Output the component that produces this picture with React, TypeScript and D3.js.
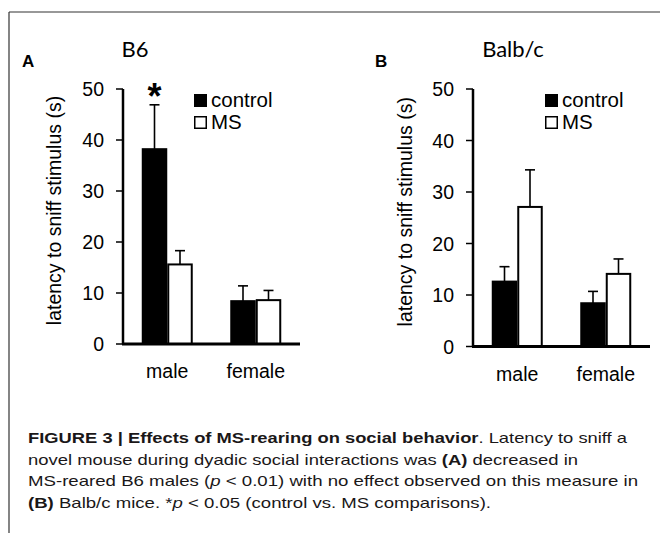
import React from "react";
import * as d3 from "d3";

const groups = ["male", "female"];
const seriesNames = ["control", "MS"];
const yTicks = [0, 10, 20, 30, 40, 50];

const b6Control = [38.2, 8.4];
const b6ControlErr = [8.7, 3.0];
const b6MS = [15.6, 8.6];
const b6MSErr = [2.7, 1.9];

const balbControl = [12.6, 8.4];
const balbControlErr = [2.9, 2.3];
const balbMS = [27.1, 14.1];
const balbMSErr = [7.2, 2.9];

const b6Significant = [true, false];
const balbSignificant = [false, false];

const FONT = "'Liberation Sans', Arial, sans-serif";
const TITLE_FONT = "Lato, 'Open Sans', sans-serif";

type PanelProps = {
  letter: string;
  title: string;
  control: number[];
  controlErr: number[];
  ms: number[];
  msErr: number[];
  sig: boolean[];
  axisX: number;
  axisEnd: number;
  y0: number;
  y50: number;
  letterX: number;
  titleX: number;
  legendX: number;
  yLabelX: number;
  xLabelY: number;
};

function Panel(p: PanelProps) {
  const y = d3.scaleLinear().domain([0, 50]).range([p.y0, p.y50]);
  const x = d3.scalePoint<string>().domain(groups).range([p.axisX, p.axisEnd]).padding(0.5);
  const inner = d3.scaleBand<string>().domain(seriesNames).range([-25.5, 25.5]).padding(0);
  const bw = inner.bandwidth();
  const vals = [p.control, p.ms];
  const errs = [p.controlErr, p.msErr];
  const fills = ["#000", "#fff"];
  return (
    <g>
      <text x={p.letterX} y={67} fontFamily={FONT} fontWeight="bold" fontSize={17}>{p.letter}</text>
      <text x={p.titleX} y={57} fontFamily={TITLE_FONT} fontSize={22} textAnchor="middle">{p.title}</text>
      <text
        transform={`translate(${p.yLabelX},${(p.y0 + p.y50) / 2 - 6}) rotate(-90)`}
        fontFamily={FONT}
        fontSize={19.5}
        textAnchor="middle"
      >
        latency to sniff stimulus (s)
      </text>
      {seriesNames.map((s, si) =>
        groups.map((g, gi) => {
          const bx = (x(g) as number) + (inner(s) as number);
          const top = y(vals[si][gi]);
          const errTop = y(vals[si][gi] + errs[si][gi]);
          const cx = bx + bw / 2;
          return (
            <g key={s + g}>
              <line x1={cx} x2={cx} y1={top} y2={errTop} stroke="#000" strokeWidth={1.6} />
              <line x1={cx - 5} x2={cx + 5} y1={errTop} y2={errTop} stroke="#000" strokeWidth={1.6} />
              <rect
                x={bx + 1}
                y={top}
                width={bw - 2}
                height={p.y0 - top}
                fill={fills[si]}
                stroke="#000"
                strokeWidth={2}
              />
            </g>
          );
        })
      )}
      {groups.map((g, gi) =>
        p.sig[gi] ? (
          <text
            key={"sig" + g}
            x={(x(g) as number) + (inner("control") as number) + bw / 2}
            y={y(p.control[gi] + p.controlErr[gi]) + 4}
            fontFamily={FONT}
            fontWeight="bold"
            fontSize={36}
            textAnchor="middle"
          >
            *
          </text>
        ) : null
      )}
      <line x1={p.axisX} x2={p.axisX} y1={y(50)} y2={p.y0} stroke="#000" strokeWidth={2.5} />
      {yTicks.map((t) => (
        <g key={t}>
          <line x1={p.axisX - 7} x2={p.axisX} y1={y(t)} y2={y(t)} stroke="#000" strokeWidth={1.5} />
          <text x={p.axisX - 19} y={y(t) + 7} fontFamily={FONT} fontSize={19.5} textAnchor="end">
            {t}
          </text>
        </g>
      ))}
      <line x1={p.axisX - 1} x2={p.axisEnd} y1={p.y0} y2={p.y0} stroke="#000" strokeWidth={3} />
      {groups.map((g) => (
        <text key={g} x={x(g) as number} y={p.xLabelY} fontFamily={FONT} fontSize={19.5} textAnchor="middle">
          {g}
        </text>
      ))}
      {seriesNames.map((s, si) => (
        <g key={"leg" + s}>
          <rect
            x={p.legendX + 0.75}
            y={94 + si * 22 + 0.75}
            width={11.5}
            height={11.5}
            fill={fills[si]}
            stroke="#000"
            strokeWidth={1.5}
          />
          <text x={p.legendX + 17} y={107 + si * 22} fontFamily={FONT} fontSize={20.5}>
            {s}
          </text>
        </g>
      ))}
    </g>
  );
}

const CAP = "'Liberation Sans', Arial, sans-serif";

export default function App() {
  return (
    <svg
      width={660}
      height={533}
      style={{ position: "absolute", left: 0, top: 0, background: "#fff" }}
    >
      <rect width={660} height={533} fill="#fff" />
      <line x1={9} x2={660} y1={12} y2={12} stroke="#333" strokeWidth={1.2} />
      <line x1={9} x2={9} y1={12} y2={533} stroke="#333" strokeWidth={1.2} />
      <Panel
        letter="A"
        title="B6"
        control={b6Control}
        controlErr={b6ControlErr}
        ms={b6MS}
        msErr={b6MSErr}
        sig={b6Significant}
        axisX={123}
        axisEnd={300}
        y0={344}
        y50={89}
        letterX={22}
        titleX={135}
        legendX={194}
        yLabelX={61}
        xLabelY={378}
      />
      <Panel
        letter="B"
        title="Balb/c"
        control={balbControl}
        controlErr={balbControlErr}
        ms={balbMS}
        msErr={balbMSErr}
        sig={balbSignificant}
        axisX={473}
        axisEnd={650}
        y0={346.5}
        y50={89}
        letterX={375}
        titleX={513}
        legendX={545}
        yLabelX={412}
        xLabelY={381}
      />
      <g fontFamily={CAP} fontSize={15} fill="#1a1718">
        <text x={28} y={443} textLength={599} lengthAdjust="spacingAndGlyphs">
          <tspan fontWeight="bold">FIGURE 3 | Effects of MS-rearing on social behavior</tspan>. Latency to sniff a
        </text>
        <text x={28} y={464.5} textLength={550} lengthAdjust="spacingAndGlyphs">
          novel mouse during dyadic social interactions was <tspan fontWeight="bold">(A)</tspan> decreased in
        </text>
        <text x={28} y={486} textLength={610} lengthAdjust="spacingAndGlyphs">
          MS-reared B6 males (<tspan fontStyle="italic">p</tspan> {"<"} 0.01) with no effect observed on this measure in
        </text>
        <text x={28} y={507.5} textLength={463} lengthAdjust="spacingAndGlyphs">
          <tspan fontWeight="bold">(B)</tspan> Balb/c mice. *<tspan fontStyle="italic">p</tspan> {"<"} 0.05 (control vs. MS comparisons).
        </text>
      </g>
    </svg>
  );
}
